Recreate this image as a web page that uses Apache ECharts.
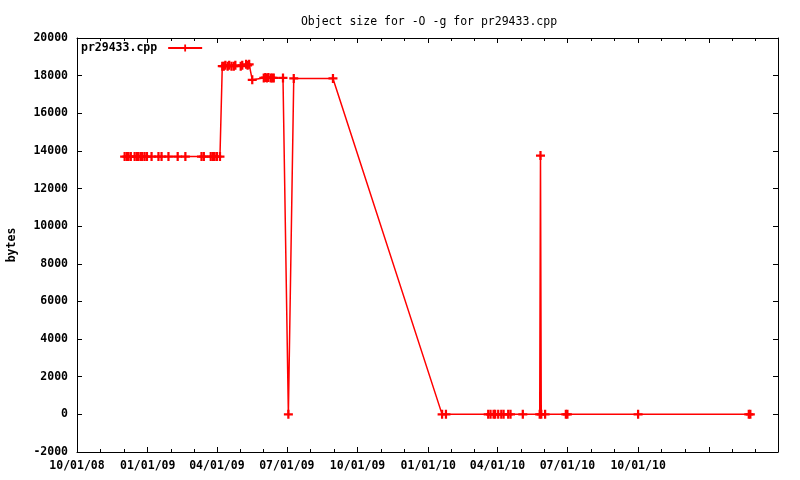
<!DOCTYPE html>
<html>
<head>
<meta charset="utf-8">
<script src="https://cdn.jsdelivr.net/npm/echarts@6/dist/echarts.min.js"></script>
<style>html,body{margin:0;padding:0;background:#fff}#c{width:800px;height:480px}</style>
</head>
<body>
<div id="c"></div>
<script>
const titleText = 'Object size for -O -g for pr29433.cpp';
const seriesName = 'pr29433.cpp';
const yAxisName = 'bytes';
const dates = [
  '2008-12-02','2008-12-05','2008-12-07','2008-12-10','2008-12-15','2008-12-18','2008-12-20','2008-12-23',
  '2008-12-25','2008-12-28','2008-12-31','2009-01-06','2009-01-15','2009-01-19','2009-01-28','2009-02-09',
  '2009-02-19','2009-03-12','2009-03-15','2009-03-24','2009-03-27','2009-03-29','2009-04-01','2009-04-05',
  '2009-04-08','2009-04-10','2009-04-12','2009-04-15','2009-04-17','2009-04-20','2009-04-23','2009-04-25',
  '2009-05-02','2009-05-04','2009-05-09','2009-05-11','2009-05-13','2009-05-17',
  '2009-06-01','2009-06-03','2009-06-05','2009-06-07','2009-06-10','2009-06-12','2009-06-14','2009-06-26',
  '2009-07-03','2009-07-10','2009-08-30',
  '2010-01-19','2010-01-24','2010-03-20','2010-03-23','2010-03-27','2010-03-29','2010-04-02','2010-04-06',
  '2010-04-09','2010-04-15','2010-04-18','2010-05-04','2010-05-26','2010-05-27','2010-05-28','2010-06-02',
  '2010-06-29','2010-07-01','2010-10-01','2011-02-22','2011-02-24'
];
const bytes = [
  13700,13700,13700,13700,13700,13700,13700,13700,
  13700,13700,13700,13700,13700,13700,13700,13700,
  13700,13700,13700,13700,13700,13700,13700,13700,
  18500,18500,18550,18500,18550,18500,18500,18550,
  18500,18550,18600,18550,18600,17780,
  17880,17900,17880,17900,17880,17880,17880,17880,
  0,17850,17850,
  0,0,0,0,0,0,0,0,
  0,0,0,0,0,13750,0,0,
  0,0,0,0,0
];
const xMin = '2008-10-01';
const xMax = '2011-04-01';
const lastLabelled = '2010-10-01';
const yMin = -2000, yMax = 20000, yStep = 2000;

const FONT = 'DejaVu Sans Mono';
const DAY = 86400000;
const lastLabelTime = new Date(lastLabelled + 'T00:00:00').getTime();
function pad(n){ return (n < 10 ? '0' : '') + n; }
function fmtDate(v){
  const d = new Date(v);
  if (d.getTime() > lastLabelTime + DAY) return '';
  return pad(d.getMonth() + 1) + '/' + pad(d.getDate()) + '/' + pad(d.getFullYear() % 100);
}
const plus = 'path://M3,0H5V3H8V5H5V8H3V5H0V3H3Z';
const data = dates.map((d, i) => [d, bytes[i]]);

const xCommon = {
  type: 'time', min: xMin, max: xMax,
  minInterval: 80 * DAY, maxInterval: 100 * DAY,
  axisLine: { show: true, onZero: false, lineStyle: { color: '#000', width: 1 } },
  axisTick: { show: true, inside: true, length: 5, lineStyle: { color: '#000' } },
  minorTick: { show: true, splitNumber: 3, length: 3, lineStyle: { color: '#000' } },
  splitLine: { show: false }, minorSplitLine: { show: false }
};
const yCommon = {
  type: 'value', min: yMin, max: yMax, interval: yStep,
  axisLine: { show: true, onZero: false, lineStyle: { color: '#000', width: 1 } },
  axisTick: { show: true, inside: true, length: 5, lineStyle: { color: '#000' } },
  splitLine: { show: false }
};

const chart = echarts.init(document.getElementById('c'), null, { renderer: 'canvas' });
chart.setOption({
  animation: false,
  backgroundColor: '#fff',
  title: {
    text: titleText, left: 424, top: 11, textAlign: 'center',
    textStyle: { fontFamily: FONT, fontSize: 11.5, fontWeight: 'normal', color: '#000' }
  },
  grid: { left: 77, right: 22, top: 38, bottom: 28, containLabel: false, outerBoundsMode: 'none' },
  legend: {
    show: true, left: 81, top: 42, align: 'right', orient: 'vertical',
    itemWidth: 34, itemHeight: 9, padding: 0,
    data: [{ name: seriesName }],
    textStyle: { fontFamily: FONT, fontSize: 11.5, fontWeight: 'bold', color: '#000', padding: [0, 6, 0, 0] }
  },
  xAxis: [
    Object.assign({}, xCommon, {
      position: 'bottom',
      axisLabel: { show: true, formatter: fmtDate, showMinLabel: true, showMaxLabel: true, margin: 8,
        fontFamily: FONT, fontSize: 11.5, fontWeight: 'bold', color: '#000' }
    }),
    Object.assign({}, xCommon, { position: 'top', axisLabel: { show: false } })
  ],
  yAxis: [
    Object.assign({}, yCommon, {
      position: 'left',
      name: yAxisName, nameLocation: 'middle', nameGap: 59, nameRotate: 90,
      nameTextStyle: { fontFamily: FONT, fontSize: 11.5, fontWeight: 'bold', color: '#000' },
      axisLabel: { show: true, margin: 9, formatter: v => String(v),
        fontFamily: FONT, fontSize: 11.5, fontWeight: 'bold', color: '#000' }
    }),
    Object.assign({}, yCommon, { position: 'right', axisLabel: { show: false } })
  ],
  series: [{
    name: seriesName, type: 'line', xAxisIndex: 0, yAxisIndex: 0,
    data: data,
    symbol: plus, symbolSize: 9, showAllSymbol: true,
    itemStyle: { color: '#ff0000', borderWidth: 0 },
    lineStyle: { color: '#ff0000', width: 1.5 },
    emphasis: { disabled: true }
  }]
});
</script>
</body>
</html>
